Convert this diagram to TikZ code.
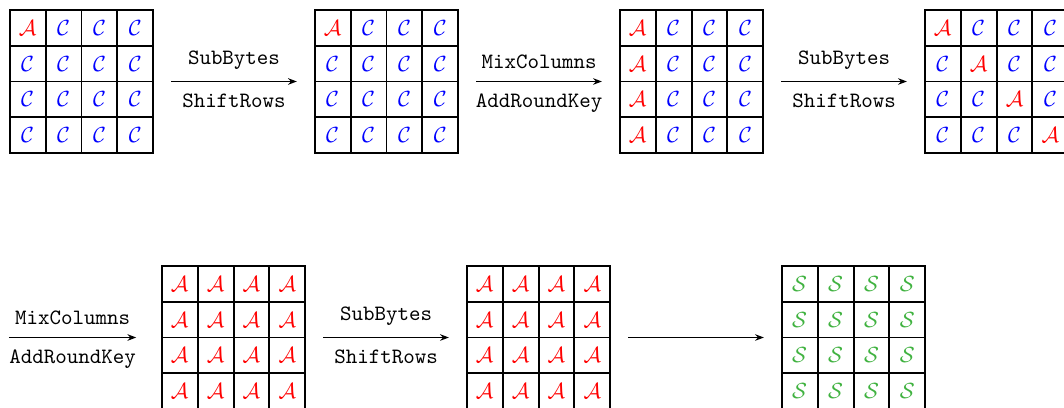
\documentclass[tikz,border=0pt]{standalone}
\usepackage{amsmath, amssymb, amsfonts}
\usepackage{xcolor}
\usetikzlibrary{matrix, arrows.meta}
\definecolor{sgreen}{rgb}{0.25,0.7,0.25}
\newcommand{\mA}{\textcolor{red}{\mathcal{A}}}
\newcommand{\mC}{\textcolor{blue}{\mathcal{C}}}
\newcommand{\mS}{\textcolor{sgreen}{\mathcal{S}}}

\begin{document}
\begin{tikzpicture}[
  state/.style={matrix of math nodes, inner sep=0pt, row sep=-0.9pt, column sep=-0.9pt,
    nodes={draw, line width=0.9pt, minimum size=16.4pt, inner sep=0pt, anchor=center}},
  rnd/.style={-{Stealth[length=4pt, width=3pt]}, line width=0.7pt, shorten <=7.5pt, shorten >=7.5pt},
  lbl/.style={font=\ttfamily}
]
  \useasboundingbox (0,0) rectangle (17.077,-6.548);

  \matrix (s1) [state] at (1.308,-1.308) {
    \mA & \mC & \mC & \mC \\
    \mC & \mC & \mC & \mC \\
    \mC & \mC & \mC & \mC \\
    \mC & \mC & \mC & \mC \\
  };
  \matrix (s2) [state] at (6.203,-1.308) {
    \mA & \mC & \mC & \mC \\
    \mC & \mC & \mC & \mC \\
    \mC & \mC & \mC & \mC \\
    \mC & \mC & \mC & \mC \\
  };
  \matrix (s3) [state] at (11.099,-1.308) {
    \mA & \mC & \mC & \mC \\
    \mA & \mC & \mC & \mC \\
    \mA & \mC & \mC & \mC \\
    \mA & \mC & \mC & \mC \\
  };
  \matrix (s4) [state] at (15.994,-1.308) {
    \mA & \mC & \mC & \mC \\
    \mC & \mA & \mC & \mC \\
    \mC & \mC & \mA & \mC \\
    \mC & \mC & \mC & \mA \\
  };
  \matrix (s5) [state] at (3.748,-5.417) {
    \mA & \mA & \mA & \mA \\
    \mA & \mA & \mA & \mA \\
    \mA & \mA & \mA & \mA \\
    \mA & \mA & \mA & \mA \\
  };
  \matrix (s6) [state] at (8.643,-5.417) {
    \mA & \mA & \mA & \mA \\
    \mA & \mA & \mA & \mA \\
    \mA & \mA & \mA & \mA \\
    \mA & \mA & \mA & \mA \\
  };
  \matrix (s7) [state] at (13.699,-5.417) {
    \mS & \mS & \mS & \mS \\
    \mS & \mS & \mS & \mS \\
    \mS & \mS & \mS & \mS \\
    \mS & \mS & \mS & \mS \\
  };
  \coordinate (wrap) at (0.144,-5.417);

  \draw[rnd] (s1.east) -- (s2.west)
    node[midway, above=2pt, lbl] {SubBytes} node[midway, below=2pt, lbl] {ShiftRows};
  \draw[rnd] (s2.east) -- (s3.west)
    node[midway, above=2pt, lbl] {MixColumns} node[midway, below=2pt, lbl] {AddRoundKey};
  \draw[rnd] (s3.east) -- (s4.west)
    node[midway, above=2pt, lbl] {SubBytes} node[midway, below=2pt, lbl] {ShiftRows};
  \draw[rnd, shorten <=0pt, shorten >=11pt] (wrap) -- (s5.west)
    node[pos=0.42, above=2pt, lbl] {MixColumns} node[pos=0.42, below=2pt, lbl] {AddRoundKey};
  \draw[rnd] (s5.east) -- (s6.west)
    node[midway, above=2pt, lbl] {SubBytes} node[midway, below=2pt, lbl] {ShiftRows};
  \draw[rnd] (s6.east) -- (s7.west);
\end{tikzpicture}
\end{document}
